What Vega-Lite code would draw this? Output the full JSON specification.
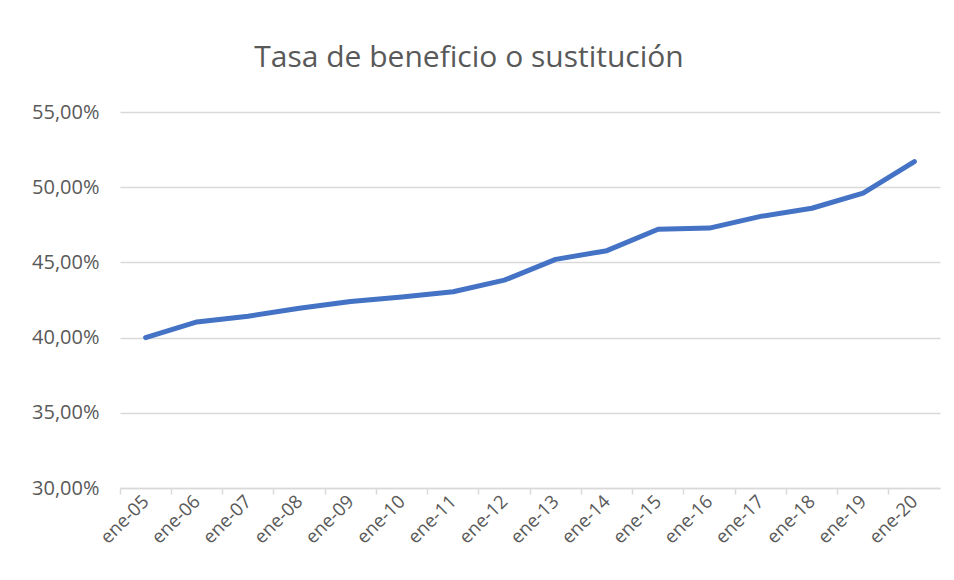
{
  "$schema": "https://vega.github.io/schema/vega-lite/v6.json",
  "width": 820,
  "height": 376,
  "autosize": "none",
  "padding": {"left": 120, "top": 112, "right": 14, "bottom": 92},
  "background": "white",
  "title": {
    "text": "Tasa de beneficio o sustitución",
    "font": "Open Sans",
    "fontSize": 30,
    "fontWeight": "normal",
    "color": "#595959",
    "anchor": "middle",
    "frame": "group",
    "dx": -61,
    "offset": 29
  },
  "config": {
    "view": {"stroke": null},
    "axis": {"labelFont": "Open Sans", "labelColor": "#595959"}
  },
  "data": {
    "values": [
      {"mes": "ene-05", "tasa": 40.0},
      {"mes": "ene-06", "tasa": 41.04},
      {"mes": "ene-07", "tasa": 41.42},
      {"mes": "ene-08", "tasa": 41.95},
      {"mes": "ene-09", "tasa": 42.4},
      {"mes": "ene-10", "tasa": 42.7},
      {"mes": "ene-11", "tasa": 43.05},
      {"mes": "ene-12", "tasa": 43.82},
      {"mes": "ene-13", "tasa": 45.2},
      {"mes": "ene-14", "tasa": 45.78},
      {"mes": "ene-15", "tasa": 47.2},
      {"mes": "ene-16", "tasa": 47.28},
      {"mes": "ene-17", "tasa": 48.06},
      {"mes": "ene-18", "tasa": 48.6},
      {"mes": "ene-19", "tasa": 49.6},
      {"mes": "ene-20", "tasa": 51.7}
    ]
  },
  "mark": {"type": "line", "color": "#4472C4", "strokeWidth": 5, "strokeCap": "round", "strokeJoin": "round"},
  "encoding": {
    "x": {
      "field": "mes",
      "type": "ordinal",
      "sort": null,
      "scale": {"type": "band", "paddingInner": 0, "paddingOuter": 0},
      "axis": {
        "title": null,
        "labelAngle": -45,
        "labelAlign": "right",
        "labelBaseline": "middle",
        "bandPosition": 0,
        "labelOffset": 0,
        "labelPadding": 4,
        "labelFontSize": 18.5,
        "domainColor": "#D9D9D9",
        "domainWidth": 1.5,
        "tickColor": "#D9D9D9",
        "tickWidth": 1.5,
        "tickSize": 6,
        "grid": false
      }
    },
    "y": {
      "field": "tasa",
      "type": "quantitative",
      "scale": {"domain": [30, 55], "nice": false, "zero": false},
      "axis": {
        "title": null,
        "values": [30, 35, 40, 45, 50, 55],
        "labelExpr": "replace(format(datum.value, '.2f'), '.', ',') + '%'",
        "labelFontSize": 20,
        "domain": false,
        "ticks": false,
        "labelPadding": 21,
        "gridColor": "#D9D9D9",
        "gridWidth": 1.5
      }
    }
  }
}
